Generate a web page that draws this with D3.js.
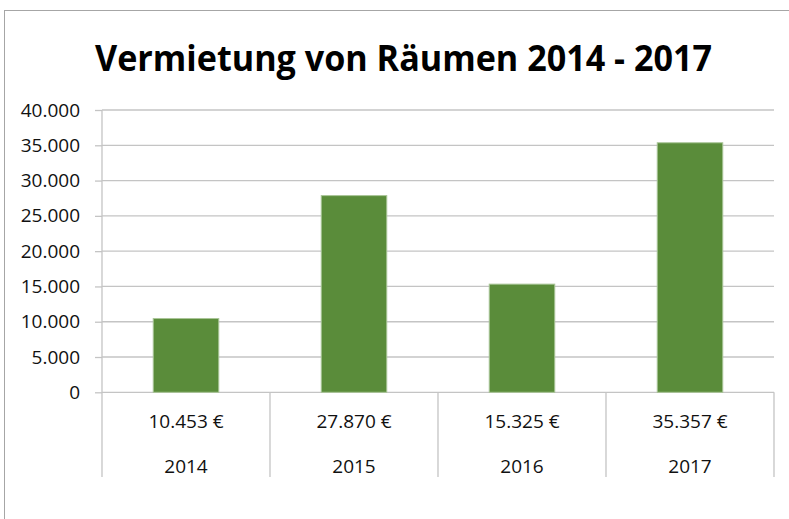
<!DOCTYPE html>
<html>
<head>
<meta charset="utf-8">
<script src="https://cdn.jsdelivr.net/npm/d3@7"></script>
<style>
  body { margin: 0; background: #fff; }
  text { font-family: "Open Sans", sans-serif; fill: #111; }
</style>
</head>
<body>
<div id="vis"></div>
<script>
// data
var years = ["2014", "2015", "2016", "2017"]
var values = [10453, 27870, 15325, 35357]
var valueLabels = ["10.453 €", "27.870 €", "15.325 €", "35.357 €"]
var yTicks = [0, 5000, 10000, 15000, 20000, 25000, 30000, 35000, 40000]

var width = 789, height = 519
var plotLeft = 102, plotRight = 774, plotTop = 110, plotBottom = 392.3
var tableBottom = 477

var x = d3.scaleBand()
  .domain(years)
  .range([plotLeft, plotRight])
  .paddingInner(0.61)
  .paddingOuter(0.305)

var xCell = d3.scaleBand()
  .domain(years)
  .range([plotLeft, plotRight])

var y = d3.scaleLinear()
  .domain([0, 40000])
  .range([plotBottom, plotTop])

var fmt = d3.formatLocale({decimal: ",", thousands: ".", grouping: [3], currency: ["", " €"]}).format(",")

var svg = d3.select("#vis")
  .append("svg")
  .attr("width", width)
  .attr("height", height)

// chart frame
svg.append("rect")
  .attr("x", 4.5).attr("y", 10.5)
  .attr("width", 800).attr("height", 600)
  .style("fill", "none")
  .style("stroke", "#a6a6a6")
  .style("stroke-width", "1px")

// title
svg.append("text")
  .attr("x", 403.5)
  .attr("y", 71)
  .attr("text-anchor", "middle")
  .attr("textLength", 617)
  .attr("lengthAdjust", "spacingAndGlyphs")
  .style("font-size", "36px")
  .style("font-weight", "bold")
  .style("fill", "#000")
  .text("Vermietung von Räumen 2014 - 2017")

// gridlines
svg.append("g")
  .selectAll("line")
  .data(yTicks)
  .enter()
  .append("line")
  .attr("x1", plotLeft).attr("x2", plotRight)
  .attr("y1", d => y(d)).attr("y2", d => y(d))
  .style("stroke", "#c4c4c4")
  .style("stroke-width", "1.3px")

// y axis
var yAxis = svg.append("g")
  .attr("transform", `translate(${plotLeft},0)`)
  .call(d3.axisLeft(y).tickValues(yTicks).tickSize(7).tickPadding(15).tickFormat(d => fmt(d)))
yAxis.select(".domain").remove()
yAxis.selectAll(".tick line").style("stroke", "#c4c4c4").style("stroke-width", "1.3px")
yAxis.selectAll(".tick text")
  .style("font-size", "19px")
  .style("font-family", "'Open Sans', sans-serif")
  .style("fill", "#111")

// vertical axis line + table lines
svg.append("g")
  .selectAll("line")
  .data(years.concat(["end"]))
  .enter()
  .append("line")
  .attr("x1", (d, i) => i < years.length ? xCell(d) : plotRight)
  .attr("x2", (d, i) => i < years.length ? xCell(d) : plotRight)
  .attr("y1", (d, i) => i == 0 ? plotTop : plotBottom)
  .attr("y2", tableBottom)
  .style("stroke", "#c4c4c4")
  .style("stroke-width", "1.3px")

// bars
svg.append("g")
  .selectAll("rect")
  .data(values)
  .enter()
  .append("rect")
  .attr("x", (d, i) => x(years[i]))
  .attr("y", d => y(d))
  .attr("width", x.bandwidth())
  .attr("height", d => plotBottom - y(d))
  .style("fill", "#5a8c3a")
  .style("stroke", "#a9c597")
  .style("stroke-width", "1px")

// data table
svg.append("g")
  .selectAll("text")
  .data(valueLabels)
  .enter()
  .append("text")
  .attr("x", (d, i) => xCell(years[i]) + xCell.bandwidth() / 2)
  .attr("y", 428)
  .attr("text-anchor", "middle")
  .style("font-size", "19px")
  .text(d => d)

svg.append("g")
  .selectAll("text")
  .data(years)
  .enter()
  .append("text")
  .attr("x", d => xCell(d) + xCell.bandwidth() / 2)
  .attr("y", 473)
  .attr("text-anchor", "middle")
  .style("font-size", "19px")
  .text(d => d)
</script>
</body>
</html>
